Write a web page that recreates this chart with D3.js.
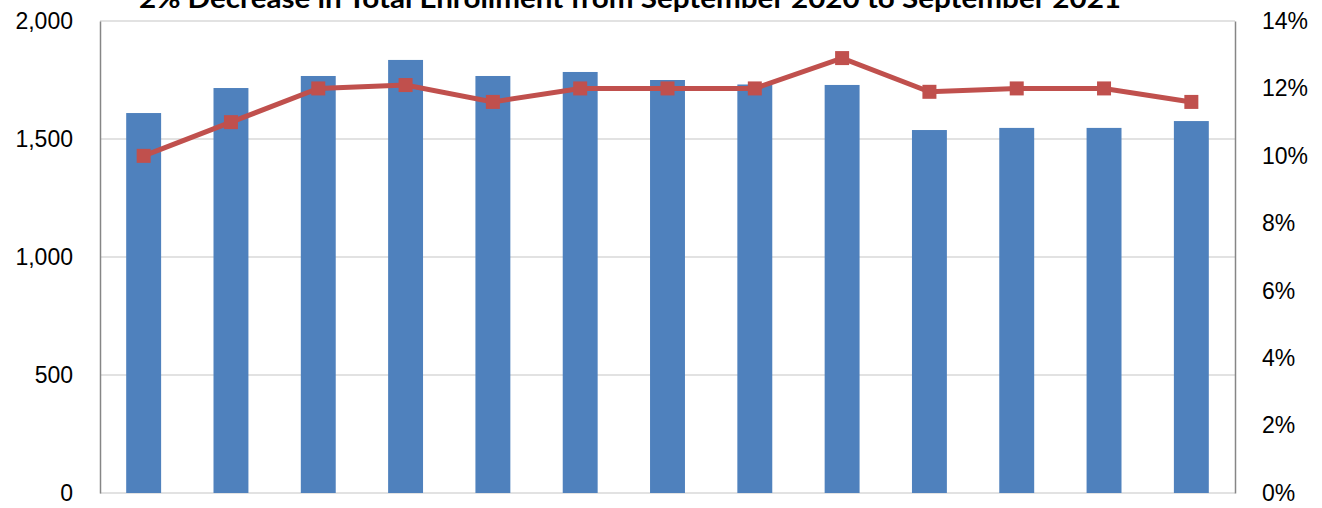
<!DOCTYPE html>
<html>
<head>
<meta charset="utf-8">
<script src="https://cdn.jsdelivr.net/npm/d3@7"></script>
<style>
  body { margin: 0; background: #fff; }
  svg { display: block; font-family: Lato, "Open Sans", sans-serif; }
</style>
</head>
<body>
<div id="chart-container"></div>
<script>
// Data
const categories = ['1', '2', '3', '4', '5', '6', '7', '8', '9', '10', '11', '12', '13'];
const enrollment = [1610, 1716, 1767, 1835, 1767, 1784, 1750, 1731, 1729, 1538, 1547, 1547, 1576];
const share = [0.100, 0.110, 0.120, 0.121, 0.116, 0.120, 0.120, 0.120, 0.129, 0.119, 0.120, 0.120, 0.116];
const leftTicks = [0, 500, 1000, 1500, 2000];
const rightTicks = [0, 0.02, 0.04, 0.06, 0.08, 0.10, 0.12, 0.14];
const title = '2% Decrease in Total Enrollment from September 2020 to September 2021';

const width = 1322, height = 508;
const margin = { top: 21, right: 87, bottom: 15, left: 100 };
const chartWidth = width - margin.left - margin.right;
const chartHeight = height - margin.top - margin.bottom;

const svg = d3.select('#chart-container')
    .append('svg')
    .attr('width', width)
    .attr('height', height);

const g = svg.append('g')
    .attr('transform', `translate(${margin.left},${margin.top})`);

const x = d3.scaleBand()
    .domain(categories)
    .range([0, chartWidth])
    .paddingInner(0.6)
    .paddingOuter(0.3);

const y = d3.scaleLinear().domain([0, 2000]).range([chartHeight, 0]);
const y2 = d3.scaleLinear().domain([0, 0.14]).range([chartHeight, 0]);

// Gridlines
g.selectAll('.grid')
    .data(leftTicks)
    .enter()
    .append('line')
    .attr('x1', 0)
    .attr('x2', chartWidth)
    .attr('y1', d => y(d))
    .attr('y2', d => y(d))
    .attr('stroke', '#d9d9d9')
    .attr('stroke-width', 1.5);

// Bars
g.selectAll('.bar')
    .data(enrollment)
    .enter()
    .append('rect')
    .attr('x', (d, i) => x(categories[i]))
    .attr('y', d => y(d))
    .attr('width', x.bandwidth())
    .attr('height', d => chartHeight - y(d))
    .attr('fill', '#4f81bd');

// Left axis
const leftAxis = g.append('g')
    .call(d3.axisLeft(y).tickValues(leftTicks).tickFormat(d3.format(',')).tickSize(0).tickPadding(27));
leftAxis.select('.domain').attr('stroke', '#868686').attr('stroke-width', 1.5);
leftAxis.selectAll('text').style('font-size', '23px').attr('fill', '#000');

// Right axis
const rightAxis = g.append('g')
    .attr('transform', `translate(${chartWidth},0)`)
    .call(d3.axisRight(y2).tickValues(rightTicks).tickFormat(d3.format('.0%')).tickSize(0).tickPadding(27));
rightAxis.select('.domain').attr('stroke', '#868686').attr('stroke-width', 1.5);
rightAxis.selectAll('text').style('font-size', '23px').attr('fill', '#000');

// Line
const line = d3.line()
    .x((d, i) => x(categories[i]) + x.bandwidth() / 2)
    .y(d => y2(d));

g.append('path')
    .datum(share)
    .attr('fill', 'none')
    .attr('stroke', '#c0504d')
    .attr('stroke-width', 5)
    .attr('d', line);

g.selectAll('.marker')
    .data(share)
    .enter()
    .append('rect')
    .attr('x', (d, i) => x(categories[i]) + x.bandwidth() / 2 - 7)
    .attr('y', d => y2(d) - 7)
    .attr('width', 14)
    .attr('height', 14)
    .attr('fill', '#c0504d');

// Title (clipped at the top like the reference)
svg.append('text')
    .attr('x', 630)
    .attr('y', 8)
    .attr('text-anchor', 'middle')
    .attr('textLength', 982)
    .attr('lengthAdjust', 'spacingAndGlyphs')
    .style('font-size', '26px')
    .style('font-weight', 'bold')
    .text(title);
</script>
</body>
</html>
